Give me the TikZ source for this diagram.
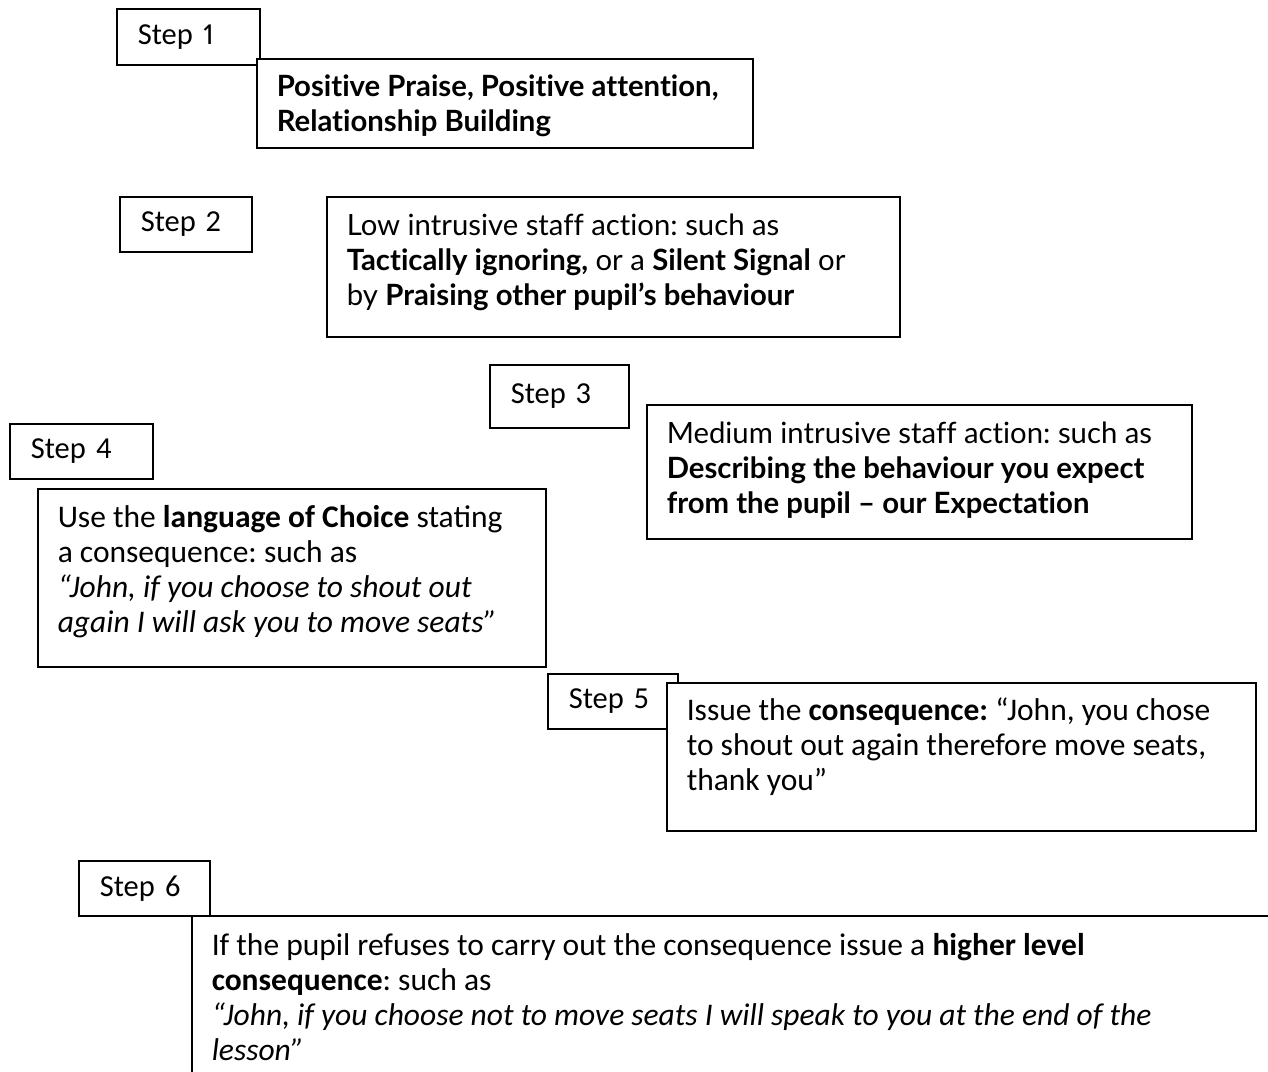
\documentclass[tikz,border=0pt]{standalone}
\usepackage{fontspec}
\setmainfont{Lato}[Ligatures=NoCommon, RawFeature={-liga;-clig;-calt;-dlig}]
\newfontfamily\calibrifont{Carlito}[Numbers=Proportional]
\newcommand{\panel}[3]{\parbox[c][#2][t]{#1}{\raggedright\frenchspacing #3}}

\begin{document}
\begin{tikzpicture}[x=1pt,y=-1pt, inner sep=0pt,
  stepbox/.style={draw, line width=1.5pt, fill=white, anchor=north west, align=left,
    inner xsep=21pt, font=\calibrifont\fontsize{30.5}{34}\selectfont},
  textbox/.style={draw, line width=1.5pt, fill=white, anchor=north west,
    inner xsep=20pt, inner ysep=17pt},
  latotext/.style={font=\fontsize{29.3}{35}\selectfont},
  calitext/.style={font=\calibrifont\fontsize{31.5}{35}\selectfont, inner ysep=17pt}]
\clip (0,0) rectangle (1268,1071);
\fill[white] (0,0) rectangle (1268,1071);
\node (step1) at (116,8) [stepbox, text width=101pt, minimum height=56pt] {Step 1};
\node (praise) at (256,58) [textbox, latotext, inner ysep=16pt] {\panel{456pt}{57pt}{\bfseries Positive Praise, Positive attention,\\ Relationship Building}};
\node (step2) at (119,196) [stepbox, text width=90pt, minimum height=55pt] {Step 2};
\node (low) at (326,196) [textbox, latotext] {\panel{533pt}{106pt}{Low intrusive staff action: such as\\ \textbf{Tactically ignoring,} or a \textbf{Silent Signal} or\\ by \textbf{Praising other pupil’s behaviour}}};
\node (step3) at (489,364) [stepbox, text width=97pt, minimum height=63pt] {Step 3};
\node (medium) at (646,404) [textbox, latotext] {\panel{505pt}{100pt}{Medium intrusive staff action: such as\\ \textbf{Describing the behaviour you expect}\\ \textbf{from the pupil – our Expectation}}};
\node (step4) at (9,423) [stepbox, text width=101pt, minimum height=55pt] {Step 4};
\node (choice) at (37,488) [textbox, calitext] {\panel{468pt}{144pt}{Use the \textbf{language of Choice} stating\\ a consequence: such as\\ \textit{“John, if you choose to shout out}\\ \textit{again I will ask you to move seats”}}};
\node (step5) at (547,673) [stepbox, text width=88pt, minimum height=55pt] {Step 5};
\node (issue) at (666,682) [textbox, calitext, inner ysep=15pt] {\panel{549pt}{118pt}{Issue the \textbf{consequence:} “John, you chose\\ to shout out again therefore move seats,\\ thank you”}};
\node (step6) at (78,860) [stepbox, text width=89pt, minimum height=55pt] {Step 6};
\node (higher) at (191,915) [textbox, calitext, inner ysep=18pt] {\panel{1060pt}{170pt}{If the pupil refuses to carry out the consequence issue a \textbf{higher level}\\ \textbf{consequence}: such as\\ \textit{“John, if you choose not to move seats I will speak to you at the end of the}\\ \textit{lesson”}}};
\end{tikzpicture}
\end{document}
